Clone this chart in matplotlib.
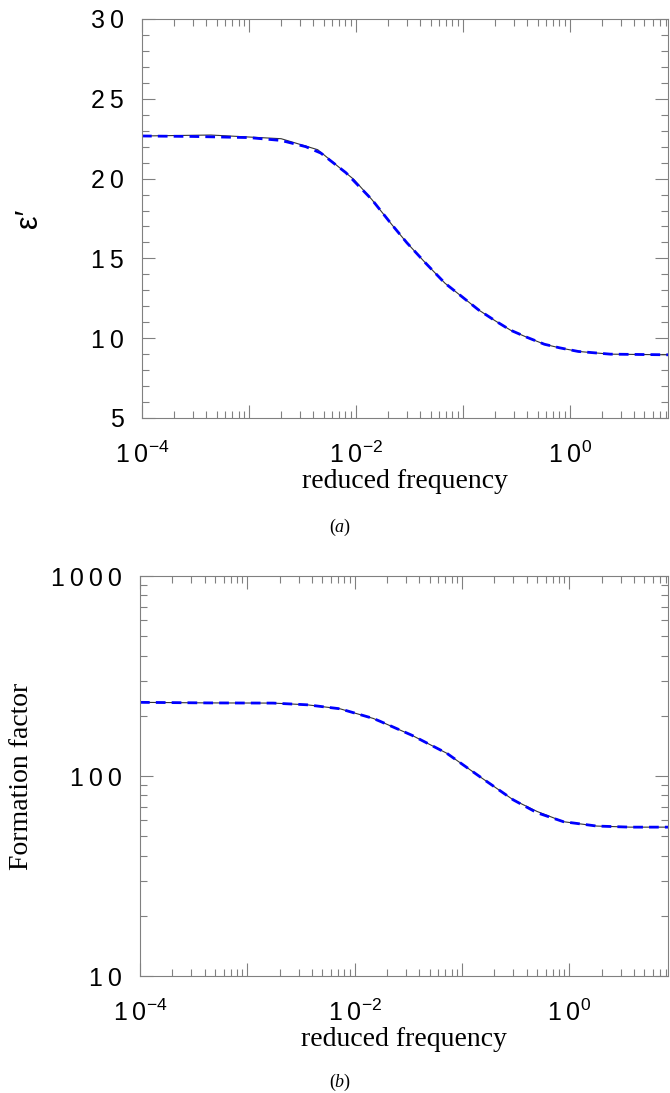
import matplotlib
matplotlib.use("Agg")
import matplotlib.pyplot as plt
from matplotlib.ticker import LogLocator, MultipleLocator, FuncFormatter, NullFormatter
import math

# -----------------------------
# Data
# -----------------------------
# (a) real permittivity vs reduced frequency
freq_a_meas = [1e-4, 4.4e-4, 2.0e-3, 4.4e-3, 9.6e-3, 1.41e-2, 2.18e-2, 3.0e-2, 4.5e-2,
               6.8e-2, 0.1, 0.14, 0.2, 0.28, 0.4, 0.58, 0.8, 1.2, 2.4, 8.3]
eps_meas = [22.67, 22.73, 22.5, 21.81, 19.94, 18.69, 17.1, 15.98, 14.7,
            13.45, 12.56, 11.78, 11.1, 10.5, 10.05, 9.62, 9.4, 9.17, 9.0, 8.96]

freq_a_fit = [1e-4, 3e-4, 1e-3, 2e-3, 3.4e-3, 4.7e-3, 8.1e-3, 1.41e-2, 2.18e-2, 3.0e-2,
              4.5e-2, 6.8e-2, 0.1, 0.14, 0.2, 0.28, 0.4, 0.58, 0.8, 1.2, 2.4, 8.3]
eps_fit = [22.67, 22.64, 22.57, 22.39, 22.0, 21.6, 20.36, 18.69, 17.1, 15.98,
           14.7, 13.45, 12.56, 11.78, 11.1, 10.5, 10.05, 9.62, 9.4, 9.17, 9.0, 8.96]

# (b) formation factor vs reduced frequency
freq_b = [1e-4, 4.2e-4, 1.74e-3, 3.6e-3, 7.3e-3, 1.49e-2, 1.73e-2, 3.4e-2, 7.2e-2,
          0.1475, 0.30, 0.50, 0.88, 1.8, 3.7, 8.3]
ff_meas = [233.5, 232.0, 231.5, 227.0, 216.8, 194.0, 187.6, 160.0, 130.0,
           99.0, 76.0, 66.5, 59.1, 56.2, 55.5, 55.5]
ff_fit = [233.5, 232.0, 231.5, 227.0, 216.8, 194.0, 187.6, 160.0, 130.0,
          99.0, 76.0, 65.5, 59.1, 56.2, 55.5, 55.5]

x_labels = {-4: "-4", -2: "-2", 0: "0"}

SANS = ["Liberation Sans", "DejaVu Sans"]
SERIF = ["Liberation Serif", "DejaVu Serif"]
THIN = "\u2009"

plt.rcParams["mathtext.fontset"] = "custom"
plt.rcParams["mathtext.it"] = "Liberation Serif:italic"
plt.rcParams["mathtext.rm"] = "Liberation Sans"
plt.rcParams["mathtext.default"] = "regular"

GRAY = "#808080"


def spaced(s):
    return THIN.join(list(s))


def xfmt(v, pos):
    e = int(round(math.log10(v)))
    if e in x_labels:
        return spaced("10") + "$^{" + x_labels[e] + "}$"
    return ""


def style_axes(ax):
    ax.set_xscale("log")
    ax.set_xlim(1e-4, 8.3)
    ax.xaxis.set_major_locator(LogLocator(base=10, numticks=20))
    ax.xaxis.set_minor_locator(LogLocator(base=10, subs=range(2, 10), numticks=20))
    ax.xaxis.set_major_formatter(FuncFormatter(xfmt))
    ax.xaxis.set_minor_formatter(NullFormatter())
    ax.tick_params(which="both", direction="in", top=True, right=True,
                   color=GRAY, width=0.8)
    ax.tick_params(which="major", length=9.5)
    ax.tick_params(which="minor", length=5)
    ax.tick_params(axis="x", which="major", pad=17)
    ax.tick_params(axis="y", which="major", pad=13)
    for sp in ax.spines.values():
        sp.set_color(GRAY)
        sp.set_linewidth(0.8)
    for lab in ax.get_xticklabels() + ax.get_yticklabels():
        lab.set_family(SANS)
        lab.set_fontsize(18)
    ax.set_xlabel("reduced frequency", family=SERIF, fontsize=20, labelpad=1)


fig = plt.figure(figsize=(6.7, 10.93), dpi=100)

# -----------------------------
# (a)
# -----------------------------
ax1 = fig.add_axes([142 / 670, 1 - 418 / 1093, (668 - 142) / 670, 399 / 1093])
ax1.plot(freq_a_meas, eps_meas, color="#333333", lw=0.8)
ax1.plot(freq_a_fit, eps_fit, color="#0000ff", lw=2.0, ls=(0, (3.5, 2.2)))
ax1.set_ylim(5, 30)
ax1.yaxis.set_major_locator(MultipleLocator(5))
ax1.yaxis.set_minor_locator(MultipleLocator(1))
ax1.yaxis.set_major_formatter(FuncFormatter(lambda v, p: spaced(str(int(round(v))))))
style_axes(ax1)
ax1.set_ylabel("\u03b5\u2032", family=SANS, fontsize=22, labelpad=34)

# -----------------------------
# (b)
# -----------------------------
ax2 = fig.add_axes([140 / 670, 1 - 976 / 1093, (668 - 140) / 670, 400 / 1093])
ax2.plot(freq_b, ff_meas, color="#333333", lw=0.8)
ax2.plot(freq_b, ff_fit, color="#0000ff", lw=2.0, ls=(0, (3.5, 2.2)))
ax2.set_yscale("log")
ax2.set_ylim(10, 1000)
ax2.yaxis.set_major_locator(LogLocator(base=10, numticks=10))
ax2.yaxis.set_minor_locator(LogLocator(base=10, subs=range(2, 10), numticks=10))
ax2.yaxis.set_major_formatter(FuncFormatter(lambda v, p: spaced(str(int(round(v))))))
ax2.yaxis.set_minor_formatter(NullFormatter())
style_axes(ax2)
ax2.set_ylabel("Formation factor", family=SERIF, fontsize=20, labelpad=12)

fig.text(340 / 670, 1 - 527 / 1093, "($\\it{a}$)", family=SERIF, fontsize=13,
         ha="center", va="center")
fig.text(340 / 670, 1 - 1082 / 1093, "($\\it{b}$)", family=SERIF, fontsize=13,
         ha="center", va="center")

fig.savefig("out.png", dpi=100)
